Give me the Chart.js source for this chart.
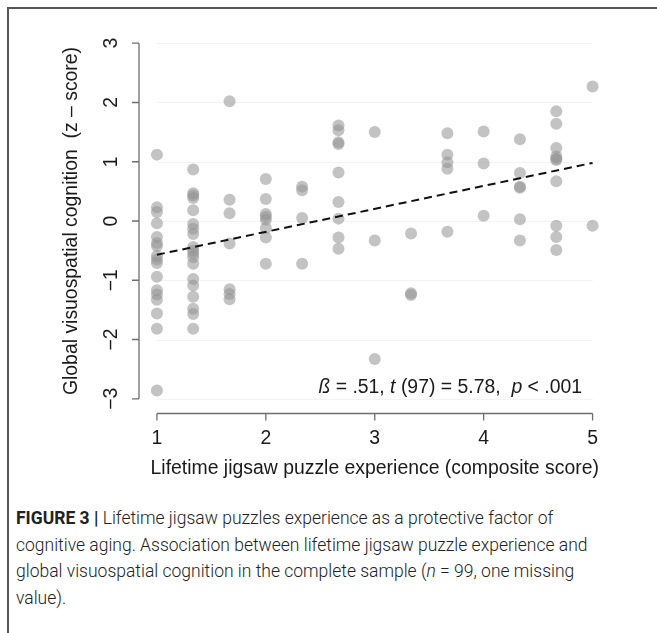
<!DOCTYPE html>
<html lang="en">
<head>
  <meta charset="UTF-8">
  <title>Jigsaw puzzle experience and visuospatial cognition</title>
  <style>
    /* page is a fixed 657x633 figure */
    body {
      margin: 0;
      width: 657px;
      height: 633px;
      background: #fff;
      position: relative;
      overflow: hidden;
    }

    .frame {
      position: absolute;
      left: 7px;
      top: 7px;
      width: 660px;
      height: 640px;
      border-top: 2px solid #555;
      border-left: 2px solid #555;
    }

    #chart {
      position: absolute;
      left: 0;
      top: 0;
    }

    .caption {
      position: absolute;
      left: 16px;
      top: 505px;
      font-family: Roboto, "Liberation Sans", sans-serif;
      font-weight: 300;
      font-size: 17.5px;
      line-height: 26.5px;
      color: #222;
      white-space: nowrap;
    }

    .caption b {
      font-weight: 700;
    }
  </style>
</head>
<body>

<div class="frame"></div>
<canvas id="chart" width="657" height="500"></canvas>

<div class="caption">
  <b>FIGURE 3 |</b> Lifetime jigsaw puzzles experience as a protective factor of<br>
  cognitive aging. Association between lifetime jigsaw puzzle experience and<br>
  global visuospatial cognition in the complete sample (<i>n</i> = 99, one missing<br>
  value).
</div>

<script src="https://cdn.jsdelivr.net/npm/chart.js"></script>
<script>
  // composite score levels (x) and the z-scores observed at each level
  const levels = [1, 1.333, 1.667, 2, 2.333, 2.667, 3, 3.333, 3.667, 4, 4.333, 4.667, 5];
  const scores = [
    [1.12, 0.23, 0.15, -0.04, -0.27, -0.37, -0.42, -0.59, -0.65, -0.71, -0.94, -1.17, -1.24, -1.33, -1.56, -1.82, -2.86],
    [0.87, 0.47, 0.43, 0.39, 0.18, -0.05, -0.13, -0.22, -0.44, -0.50, -0.55, -0.61, -0.72, -0.98, -1.09, -1.28, -1.48, -1.57, -1.82],
    [2.02, 0.36, 0.13, -0.38, -1.15, -1.23, -1.32],
    [0.71, 0.37, 0.12, 0.07, 0.02, -0.12, -0.28, -0.72],
    [0.58, 0.52, 0.05, -0.72],
    [1.61, 1.53, 1.33, 1.30, 0.82, 0.32, 0.04, -0.28, -0.47],
    [1.50, -0.33, -2.33],
    [-0.21, -1.22, -1.25],
    [1.48, 1.12, 0.99, 0.88, -0.18],
    [1.51, 0.97, 0.09],
    [1.38, 0.81, 0.58, 0.56, 0.03, -0.33],
    [1.85, 1.64, 1.23, 1.09, 1.05, 1.03, 0.67, -0.08, -0.27, -0.49],
    [2.27, -0.08]
  ];

  // regression line end points
  const fitX = [1, 5];
  const fitY = [-0.57, 0.98];

  // axis ticks
  const xTicks = [1, 2, 3, 4, 5];
  const yTicks = [-3, -2, -1, 0, 1, 2, 3];

  const xTitle = 'Lifetime jigsaw puzzle experience (composite score)';
  const yTitle = 'Global visuospatial cognition  (z \u2013 score)';

  const points = [];
  levels.forEach((x, i) => {
    scores[i].forEach(y => points.push({ x: x, y: y }));
  });

  const fitLine = fitX.map((x, i) => ({ x: x, y: fitY[i] }));

  const FONT = '19.4px "Liberation Sans", Arial, sans-serif';

  // R-style axes, faint grid and the stats label
  const rAxes = {
    id: 'rAxes',
    beforeDatasetsDraw(chart) {
      const ctx = chart.ctx;
      const xs = chart.scales.x;
      const ys = chart.scales.y;
      const x0 = xs.getPixelForValue(xTicks[0]);
      const x1 = xs.getPixelForValue(xTicks[xTicks.length - 1]);
      ctx.save();
      ctx.strokeStyle = '#f3f3f3';
      ctx.lineWidth = 1;
      yTicks.forEach(v => {
        const py = Math.round(ys.getPixelForValue(v)) + 0.5;
        ctx.beginPath();
        ctx.moveTo(x0, py);
        ctx.lineTo(x1, py);
        ctx.stroke();
      });
      ctx.restore();
    },
    afterDraw(chart) {
      const ctx = chart.ctx;
      const xs = chart.scales.x;
      const ys = chart.scales.y;
      const area = chart.chartArea;
      ctx.save();
      ctx.strokeStyle = '#6e6e6e';
      ctx.lineWidth = 1.3;
      ctx.fillStyle = '#1a1a1a';
      ctx.font = FONT;

      // x axis
      const ax = area.bottom + 0.5;
      ctx.beginPath();
      ctx.moveTo(xs.getPixelForValue(xTicks[0]), ax);
      ctx.lineTo(xs.getPixelForValue(xTicks[xTicks.length - 1]), ax);
      xTicks.forEach(v => {
        const px = xs.getPixelForValue(v);
        ctx.moveTo(px, ax);
        ctx.lineTo(px, ax + 7);
      });
      ctx.stroke();
      ctx.textAlign = 'center';
      ctx.textBaseline = 'middle';
      xTicks.forEach(v => {
        ctx.fillText(String(v), xs.getPixelForValue(v), ax + 25);
      });
      ctx.fillText(xTitle, (xs.getPixelForValue(1) + xs.getPixelForValue(5)) / 2, ax + 55);

      // y axis
      const ay = area.left - 0.5;
      ctx.beginPath();
      ctx.moveTo(ay, ys.getPixelForValue(yTicks[0]));
      ctx.lineTo(ay, ys.getPixelForValue(yTicks[yTicks.length - 1]));
      yTicks.forEach(v => {
        const py = ys.getPixelForValue(v);
        ctx.moveTo(ay, py);
        ctx.lineTo(ay - 7, py);
      });
      ctx.stroke();
      yTicks.forEach(v => {
        ctx.save();
        ctx.translate(ay - 27, ys.getPixelForValue(v));
        ctx.rotate(-Math.PI / 2);
        ctx.fillText(v < 0 ? '\u2212' + Math.abs(v) : String(v), 0, 0);
        ctx.restore();
      });
      ctx.save();
      ctx.translate(ay - 67, ys.getPixelForValue(0));
      ctx.rotate(-Math.PI / 2);
      ctx.fillText(yTitle, 0, 0);
      ctx.restore();

      // stats label, right aligned near x = 5
      const parts = [
        ['italic ', '\u00DF'], ['', ' = .51, '], ['italic ', 't'], ['', ' (97) = 5.78,  '],
        ['italic ', 'p'], ['', ' < .001']
      ];
      let total = 0;
      parts.forEach(p => { ctx.font = p[0] + FONT; total += ctx.measureText(p[1]).width; });
      let tx = 582 - total;
      const ty = ys.getPixelForValue(-2.85) - 2;
      ctx.textAlign = 'left';
      parts.forEach(p => {
        ctx.font = p[0] + FONT;
        ctx.fillText(p[1], tx, ty);
        tx += ctx.measureText(p[1]).width;
      });
      ctx.restore();
    }
  };

  new Chart(document.getElementById('chart').getContext('2d'), {
    type: 'scatter',
    data: {
      datasets: [
        {
          type: 'line',
          data: fitLine,
          borderColor: '#111',
          borderWidth: 2,
          borderDash: [8, 5],
          pointRadius: 0,
          fill: false,
          order: 0
        },
        {
          data: points,
          backgroundColor: 'rgba(145, 145, 145, 0.55)',
          borderWidth: 0,
          pointRadius: 6,
          pointHoverRadius: 6,
          order: 1
        }
      ]
    },
    options: {
      responsive: false,
      animation: false,
      layout: { padding: { left: 139.5, right: 47, top: 29, bottom: 87 } },
      plugins: { legend: { display: false }, tooltip: { enabled: false } },
      scales: {
        x: { type: 'linear', min: 0.84, max: 5.16, display: false },
        y: { type: 'linear', min: -3.24, max: 3.24, display: false }
      }
    },
    plugins: [rAxes]
  });
</script>
</body>
</html>
